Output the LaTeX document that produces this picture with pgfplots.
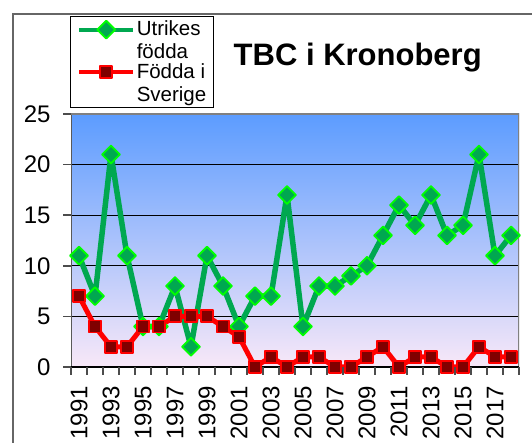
\documentclass[border=0pt]{standalone}
\usepackage{fontspec}
\setmainfont{Liberation Sans}
\usepackage{pgfplots}
\usepackage{pgfplotstable}
\pgfplotsset{compat=1.18}

\definecolor{ugreen}{RGB}{0,168,80}
\definecolor{ugreenedge}{RGB}{0,255,0}
\definecolor{sred}{RGB}{255,0,0}
\definecolor{sdark}{RGB}{128,0,0}
\definecolor{bgtop}{RGB}{92,156,255}
\definecolor{bgbot}{RGB}{248,232,248}

% TBC-fall per år: utrikes födda / födda i Sverige
\pgfplotstableread{
year utr sve
1991 11 7
1992 7  4
1993 21 2
1994 11 2
1995 4  4
1996 4  4
1997 8  5
1998 2  5
1999 11 5
2000 8  4
2001 4  3
2002 7  0
2003 7  1
2004 17 0
2005 4  1
2006 8  1
2007 8  0
2008 9  0
2009 10 1
2010 13 2
2011 16 0
2012 14 1
2013 17 1
2014 13 0
2015 14 0
2016 21 2
2017 11 1
2018 13 1
}\tbc

\begin{document}
\begin{tikzpicture}
\useasboundingbox (0,0) rectangle (532pt,443pt);
\draw[gray!80!black, line width=1.2pt] (13pt,0pt) -- (13pt,429pt) -- (532pt,429pt);
\begin{axis}[
  at={(71pt,76pt)}, anchor=south west,
  scale only axis, width=448pt, height=253pt,
  xmin=1990.5, xmax=2018.5, ymin=0, ymax=25,
  axis line style={draw=none},
  ytick={0,5,...,25},
  xtick={1991,1993,...,2017},
  minor xtick={1990.5,1991.5,...,2018.5},
  major x tick style={draw=none},
  tick align=outside, tick pos=left,
  major tick length=8pt, minor tick length=8pt,
  tick style={gray!60!black, line width=1.5pt},
  ymajorgrids, grid style={black, line width=0.8pt},
  axis background/.style={shade, top color=bgtop, bottom color=bgbot},
  /pgf/number format/assume math mode=true,
  /pgf/number format/1000 sep={},
  ticklabel style={font=\fontsize{24}{24}\selectfont},
  yticklabel style={xshift=-9pt},
  xticklabel style={rotate=90, anchor=east, inner xsep=11pt},
  title={TBC i Kronoberg},
  title style={at={(axis description cs:0.64,1.20)}, anchor=center,
    font=\bfseries\fontsize{31}{31}\selectfont},
  legend style={at={(axis description cs:-0.002,1.387)}, anchor=north west,
    draw=black, line width=0.8pt, fill=white, inner xsep=6pt, inner ysep=3pt,
    font=\fontsize{20.5}{23}\selectfont,
    nodes={align=left, inner sep=1.5pt}},
  legend cell align=left,
  legend image code/.code={\draw[mark repeat=2, mark phase=2, line width=4pt, #1]
    plot coordinates {(0pt,11pt) (27pt,11pt) (54pt,11pt)};
    \path (0pt,-17pt);},
]
\draw[gray!70!black, line width=2.5pt] (rel axis cs:0,0) -- (rel axis cs:0,1);
\draw[gray, line width=2.5pt] (rel axis cs:0,1) -- (rel axis cs:1,1) -- (rel axis cs:1,0);
\draw[black, line width=1.2pt] (rel axis cs:0,0) -- (rel axis cs:1,0);

\addplot[ugreen, line width=5.5pt, line join=round, mark=square*, mark size=6.3pt,
  mark options={rotate=45, fill=ugreen, draw=ugreenedge, line width=1.8pt}]
  table[x=year, y=utr] {\tbc};
\addlegendentry{Utrikes\\födda}
\addplot[sred, line width=5pt, line join=round, mark=square*, mark size=6pt,
  mark options={fill=sdark, draw=sred, line width=1.8pt}]
  table[x=year, y=sve] {\tbc};
\addlegendentry{Födda i\\Sverige}
\end{axis}
\end{tikzpicture}
\end{document}
